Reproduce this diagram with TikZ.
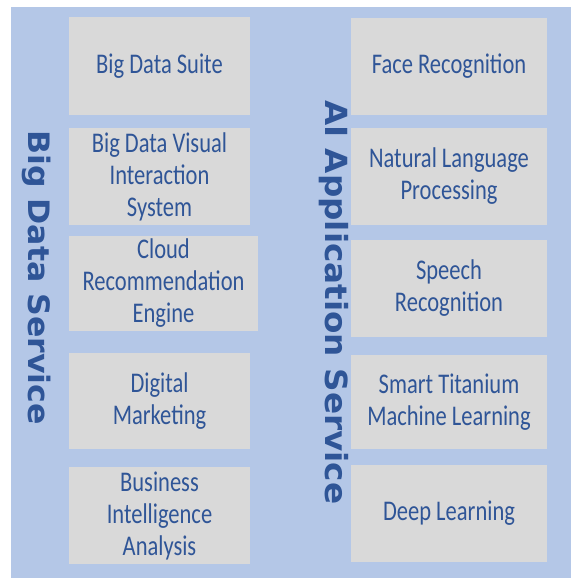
\documentclass[tikz,border=0pt]{standalone}
\usepackage{fontspec}
\newfontfamily\boxfamily[FakeStretch=0.79]{Carlito}
\newfontfamily\lblfamily[FakeStretch=1.07]{DejaVu Sans}
\definecolor{bgblue}{RGB}{180,199,231}
\definecolor{boxgray}{RGB}{217,217,217}
\definecolor{txtblue}{RGB}{47,85,151}
\tikzset{
  svcbox/.style={fill=boxgray, draw=none, inner sep=0pt, align=center,
    text=txtblue, font=\boxfamily\fontsize{28.5}{32}\selectfont},
  leftbox/.style={svcbox, minimum width=181pt},
  rightbox/.style={svcbox, minimum width=196pt},
  vlabel/.style={text=txtblue, inner sep=0pt, anchor=base west, rotate=-90,
    font=\lblfamily\bfseries}
}
\begin{document}
\begin{tikzpicture}[x=1pt,y=1pt]
\useasboundingbox (0,0) rectangle (571,-578);
\fill[bgblue] (11,-7) rectangle (571,-578);
% left column
\node[leftbox, minimum height=98pt] (l1) at (159.5,-66) {Big Data Suite};
\node[leftbox, minimum height=97pt] (l2) at (159.5,-176.5) {Big Data Visual\\Interaction\\System};
\node[svcbox, minimum width=189pt, minimum height=95pt] (l3) at (163.5,-283.5) {Cloud\\Recommendation\\Engine};
\node[leftbox, minimum height=96pt] (l4) at (159.5,-401) {Digital\\Marketing};
\node[leftbox, minimum height=97pt] (l5) at (159.5,-515.5) {Business\\Intelligence\\Analysis};
% right column
\node[rightbox, minimum height=97pt] (r1) at (449,-66.5) {Face Recognition};
\node[rightbox, minimum height=97pt] (r2) at (449,-176.5) {Natural Language\\Processing};
\node[rightbox, minimum height=97pt] (r3) at (449,-288.5) {Speech\\Recognition};
\node[rightbox, minimum height=94pt] (r4) at (449,-402) {Smart Titanium\\Machine Learning};
\node[rightbox, minimum height=97pt] (r5) at (449,-513.5) {Deep Learning};
% vertical labels
\node[vlabel, font=\lblfamily\bfseries\fontsize{29.5}{33}\selectfont] (bds) at (28,-130) {Big Data Service};
\node[vlabel, font=\lblfamily\bfseries\fontsize{30.5}{34}\selectfont] (ais) at (325,-100) {AI Application Service};
\end{tikzpicture}
\end{document}
